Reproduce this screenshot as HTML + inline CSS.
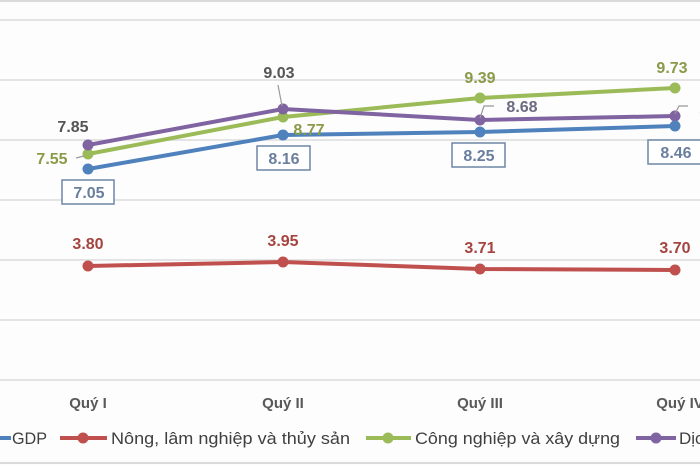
<!DOCTYPE html>
<html><head><meta charset="utf-8"><style>
html,body{margin:0;padding:0;background:#fff;width:700px;height:466px;overflow:hidden}
text{font-family:"Liberation Sans",sans-serif}
</style></head><body>
<svg width="700" height="466" viewBox="0 0 700 466" xmlns="http://www.w3.org/2000/svg">
<rect width="700" height="466" fill="#fdfdfd"/>
<line x1="0" y1="1" x2="700" y2="1" stroke="#d9d9d9" stroke-width="2"/>
<line x1="0" y1="463" x2="700" y2="463" stroke="#d9d9d9" stroke-width="2"/>
<g stroke="#dcdcdc" stroke-width="1.5">
<line x1="0" y1="20" x2="700" y2="20"/><line x1="0" y1="80" x2="700" y2="80"/>
<line x1="0" y1="140" x2="700" y2="140"/><line x1="0" y1="200" x2="700" y2="200"/>
<line x1="0" y1="260" x2="700" y2="260"/><line x1="0" y1="320" x2="700" y2="320"/>
<line x1="0" y1="380" x2="700" y2="380"/>
</g>
<g fill="none" stroke-width="4" stroke-linejoin="round">
<polyline points="88,266 283,262 480,269 675,270" stroke="#c0504d"/>
<polyline points="88,154 283,117 480,98 675,88" stroke="#9bbb59"/>
<polyline points="88,145 283,109 480,120 675,116" stroke="#8064a2"/>
<polyline points="88,169 283,135 480,132 675,126" stroke="#4f81bd"/>
</g>
<g fill="#c0504d"><circle cx="88" cy="266" r="5.5"/><circle cx="283" cy="262" r="5.5"/><circle cx="480" cy="269" r="5.5"/><circle cx="675" cy="270" r="5.5"/></g>
<g fill="#9bbb59"><circle cx="88" cy="154" r="5.5"/><circle cx="283" cy="117" r="5.5"/><circle cx="480" cy="98" r="5.5"/><circle cx="675" cy="88" r="5.5"/></g>
<g fill="#8064a2"><circle cx="88" cy="145" r="5.5"/><circle cx="283" cy="109" r="5.5"/><circle cx="480" cy="120" r="5.5"/><circle cx="675" cy="116" r="5.5"/></g>
<g fill="#4f81bd"><circle cx="88" cy="169" r="5.5"/><circle cx="283" cy="135" r="5.5"/><circle cx="480" cy="132" r="5.5"/><circle cx="675" cy="126" r="5.5"/></g>
<g stroke="#999" stroke-width="1.2" fill="none">
<line x1="76" y1="158" x2="84" y2="156"/>
<line x1="278" y1="85" x2="282" y2="106"/>
<polyline points="480,118 484,106 494,106"/>
<polyline points="675,114 679,106 688,106"/>
</g>
<g fill="#fff" stroke="#6e86a6" stroke-width="1.5">
<rect x="62" y="180" width="52" height="24"/>
<rect x="257" y="146" width="53" height="24"/>
<rect x="452" y="143" width="53" height="24"/>
<rect x="648" y="140" width="54" height="24"/>
</g>
<g font-size="16" font-weight="bold" text-anchor="middle">
<text x="73" y="132" fill="#555">7.85</text>
<text x="52" y="164" fill="#8a9a48">7.55</text>
<text x="89" y="198" fill="#6a7f9e">7.05</text>
<text x="279" y="78" fill="#555">9.03</text>
<text x="309" y="135" fill="#8a9a48">8.77</text>
<text x="284" y="164" fill="#6a7f9e">8.16</text>
<text x="480" y="83" fill="#8a9a48">9.39</text>
<text x="522" y="112" fill="#6a6a80">8.68</text>
<text x="479" y="161" fill="#6a7f9e">8.25</text>
<text x="672" y="73" fill="#8a9a48">9.73</text>
<text x="676" y="158" fill="#6a7f9e">8.46</text>
<text x="706" y="116" fill="#6a6a80">8.</text>
<text x="88" y="249" fill="#a5443f">3.80</text>
<text x="283" y="246" fill="#a5443f">3.95</text>
<text x="480" y="253" fill="#a5443f">3.71</text>
<text x="675" y="253" fill="#a5443f">3.70</text>
</g>
<g font-size="15" font-weight="bold" fill="#595959" text-anchor="middle">
<text x="88" y="408">Quý I</text><text x="283" y="408">Quý II</text>
<text x="480" y="408">Quý III</text><text x="680" y="408">Quý IV</text>
</g>
<g stroke-width="4">
<line x1="0" y1="438" x2="11" y2="438" stroke="#4f81bd"/>
<line x1="60" y1="438" x2="107" y2="438" stroke="#c0504d"/>
<line x1="366" y1="438" x2="411" y2="438" stroke="#9bbb59"/>
<line x1="636" y1="438" x2="676" y2="438" stroke="#8064a2"/>
</g>
<circle cx="83" cy="438" r="5.5" fill="#c0504d"/>
<circle cx="388" cy="438" r="5.5" fill="#9bbb59"/>
<circle cx="656" cy="438" r="5.5" fill="#8064a2"/>
<g font-size="17" fill="#404040">
<text x="12" y="444" textLength="35" lengthAdjust="spacingAndGlyphs">GDP</text>
<text x="111" y="444" textLength="239" lengthAdjust="spacingAndGlyphs">Nông, lâm nghiệp và thủy sản</text>
<text x="415" y="444" textLength="205" lengthAdjust="spacingAndGlyphs">Công nghiệp và xây dựng</text>
<text x="679" y="444">Dịch vụ</text>
</g>
</svg>
</body></html>
